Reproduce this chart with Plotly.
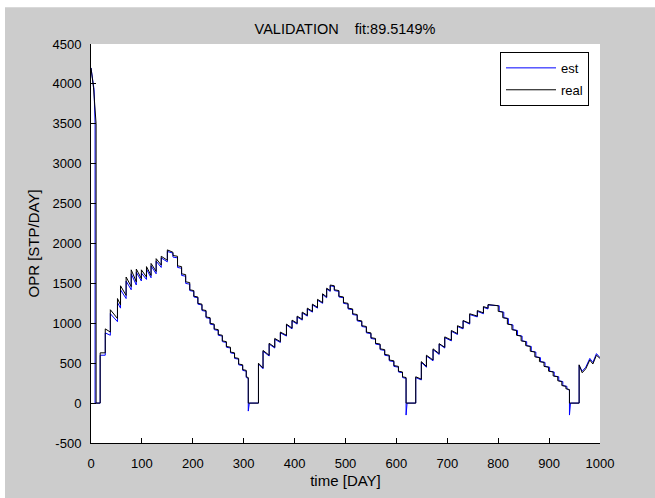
import plotly.graph_objects as go

# ---- data ----
real_t = [0, 5, 10, 10, 18, 18, 28, 28, 38, 38, 52, 52, 58, 58, 69, 69, 79, 79, 89, 89,
          99, 99, 109, 109, 118, 118, 128, 128, 138, 138, 150, 150, 161, 161, 170, 170,
          178, 178, 186, 186, 194, 194, 202, 202, 210, 210, 218, 218, 226, 226, 234, 234,
          242, 242, 250, 250, 258, 258, 266, 266, 274, 274, 282, 282, 290, 290, 298, 298,
          305, 305, 309, 309, 329, 329,
          338, 338, 350, 350, 361, 361, 372, 372, 384, 384, 395, 395, 405, 405, 415, 415,
          425, 425, 435, 435, 445, 445, 455, 455, 463, 463, 470, 470, 478, 478, 487, 487,
          496, 496, 505, 505, 514, 514, 523, 523, 532, 532, 541, 541, 550, 550, 559, 559,
          568, 568, 577, 577, 586, 586, 595, 595, 604, 604, 612, 612, 619, 619, 638, 638,
          649, 649, 659, 659, 672, 672, 684, 684, 695, 695, 708, 708, 720, 720, 731, 731,
          744, 744, 759, 759, 771, 771, 780, 780, 800, 800, 809, 809, 818, 818, 827, 827,
          836, 836, 845, 845, 854, 854, 863, 863, 872, 872, 881, 881, 890, 890, 899, 899,
          908, 908, 917, 917, 925, 925, 933, 933, 940, 940, 959, 959, 965, 972, 980, 986,
          993, 1000]
real_v = [4200, 3950, 3500, 0, 0, 630, 630, 930, 890, 1170, 1060, 1310, 1230, 1470, 1350, 1580, 1460, 1670, 1520, 1680,
          1560, 1670, 1580, 1710, 1600, 1750, 1650, 1810, 1730, 1840, 1790, 1920, 1890, 1850, 1840, 1720,
          1710, 1620, 1610, 1520, 1510, 1420, 1410, 1340, 1330, 1250, 1240, 1170, 1160, 1080, 1070, 1000,
          990, 930, 920, 860, 850, 780, 770, 710, 700, 640, 630, 570, 560, 490, 480, 420,
          410, 330, 320, 0, 0, 500,
          440, 660, 600, 750, 700, 810, 770, 890, 850, 990, 940, 1040, 1000, 1090, 1050, 1140,
          1100, 1190, 1150, 1240, 1200, 1300, 1260, 1370, 1330, 1440, 1410, 1480, 1470, 1420, 1410, 1340,
          1330, 1260, 1250, 1190, 1180, 1120, 1110, 1040, 1030, 970, 960, 890, 880, 820, 810, 750,
          740, 680, 670, 610, 600, 540, 530, 470, 460, 400, 390, 330, 320, 0, 0, 330,
          300, 520, 460, 600, 540, 680, 620, 745, 700, 830, 790, 910, 870, 970, 940, 1035,
          1000, 1120, 1090, 1160, 1130, 1210, 1190, 1235, 1220, 1150, 1140, 1070, 1060, 990, 980, 920,
          910, 850, 840, 780, 770, 720, 710, 650, 640, 580, 570, 520, 510, 460, 450, 400,
          390, 340, 330, 280, 270, 220, 210, 180, 170, 0, 0, 480, 380, 430, 540, 490,
          600, 560]

est_t = [0, 3, 6, 8, 8, 18, 18, 28, 28, 38, 38, 52, 52, 58, 58, 69, 69, 79, 79, 89, 89,
         99, 99, 109, 109, 118, 118, 128, 128, 138, 138, 150, 150, 161, 161, 170, 170,
         178, 178, 186, 186, 194, 194, 202, 202, 210, 210, 218, 218, 226, 226, 234, 234,
         242, 242, 250, 250, 258, 258, 266, 266, 274, 274, 282, 282, 290, 290, 298, 298,
         305, 305, 309, 309, 311, 329, 329,
         338, 338, 350, 350, 361, 361, 372, 372, 384, 384, 395, 395, 405, 405, 415, 415,
         425, 425, 435, 435, 445, 445, 455, 455, 463, 463, 470, 470, 478, 478, 487, 487,
         496, 496, 505, 505, 514, 514, 523, 523, 532, 532, 541, 541, 550, 550, 559, 559,
         568, 568, 577, 577, 586, 586, 595, 595, 604, 604, 612, 612, 619, 619, 621, 638, 638,
         649, 649, 659, 659, 672, 672, 684, 684, 695, 695, 708, 708, 720, 720, 731, 731,
         744, 744, 759, 759, 771, 771, 780, 780, 802, 802, 811, 811, 820, 820, 829, 829,
         838, 838, 847, 847, 856, 856, 865, 865, 874, 874, 883, 883, 892, 892, 901, 901,
         910, 910, 919, 919, 927, 927, 935, 935, 940, 940, 942, 959, 959, 965, 972, 980,
         986, 993, 1000]
est_v = [4200, 4050, 3930, 3500, 0, 0, 600, 600, 880, 850, 1120, 1020, 1260, 1190, 1420, 1310, 1530, 1420, 1620, 1480, 1640,
         1530, 1630, 1550, 1680, 1570, 1720, 1620, 1780, 1700, 1820, 1770, 1900, 1880, 1830, 1820, 1700,
         1690, 1600, 1590, 1500, 1490, 1410, 1400, 1330, 1320, 1240, 1230, 1160, 1150, 1070, 1060, 990,
         980, 920, 910, 850, 840, 770, 760, 700, 690, 630, 620, 560, 550, 480, 470, 410,
         400, 320, 310, -100, 0, 0, 490,
         430, 650, 590, 740, 690, 800, 760, 880, 840, 980, 930, 1030, 990, 1080, 1040, 1130,
         1090, 1180, 1140, 1230, 1190, 1290, 1250, 1360, 1320, 1430, 1400, 1470, 1460, 1410, 1400, 1330,
         1320, 1250, 1240, 1180, 1170, 1110, 1100, 1030, 1020, 960, 950, 880, 870, 810, 800, 740,
         730, 670, 660, 600, 590, 530, 520, 460, 450, 390, 380, 320, 310, -150, 0, 0, 320,
         290, 510, 450, 590, 530, 670, 610, 740, 690, 820, 780, 900, 860, 960, 930, 1030,
         990, 1110, 1080, 1150, 1120, 1200, 1180, 1230, 1220, 1150, 1140, 1070, 1060, 990, 980, 920,
         910, 850, 840, 780, 770, 720, 710, 650, 640, 580, 570, 520, 510, 460, 450, 400,
         390, 340, 330, 280, 270, 220, 210, 180, 160, -150, 0, 0, 470, 400, 450, 560,
         510, 620, 570]

x_ticks = [0, 100, 200, 300, 400, 500, 600, 700, 800, 900, 1000]
y_ticks = [-500, 0, 500, 1000, 1500, 2000, 2500, 3000, 3500, 4000, 4500]

FONT = "Liberation Sans, Arial, sans-serif"

fig = go.Figure()
fig.add_trace(go.Scatter(x=est_t, y=est_v, mode="lines", name="est",
                         line=dict(color="#0000ff", width=1), legendgroup="a"))
fig.add_trace(go.Scatter(x=real_t, y=real_v, mode="lines", name="real",
                         line=dict(color="#000000", width=1), legendgroup="b"))

W, H = 655, 498
ML, MR, MT, MB = 91, 55, 44, 51
PW = W - ML - MR
PH = H - MT - MB

# thin white strips along the top and left edges of the grey figure
fig.add_shape(type="rect", xref="paper", yref="paper", layer="below",
              x0=-(ML + 10) / PW, x1=(W + 10 - ML) / PW,
              y0=(H - MB - 7) / PH, y1=(H - MB + 10) / PH,
              fillcolor="#ffffff", line=dict(width=0))
fig.add_shape(type="rect", xref="paper", yref="paper", layer="below",
              x0=-(ML + 10) / PW, x1=(5 - ML) / PW,
              y0=-(MB + 10) / PH, y1=(H - MB + 10) / PH,
              fillcolor="#ffffff", line=dict(width=0))

fig.update_layout(
    width=W, height=H,
    margin=dict(l=ML, r=MR, t=MT, b=MB, pad=0),
    paper_bgcolor="#cccccc",
    plot_bgcolor="#ffffff",
    font=dict(family=FONT, size=13, color="#000000"),
    title=dict(text="VALIDATION\u00a0\u00a0\u00a0\u00a0fit:89.5149%", x=(345 - ML) / PW, xref="paper",
               xanchor="center", y=1 - 29 / H, yanchor="middle", font=dict(size=14.5)),
    showlegend=True,
    legend=dict(x=(500 - ML) / PW, y=(H - MB - 52) / PH, xanchor="left", yanchor="top",
                bgcolor="#ffffff", bordercolor="#000000", borderwidth=1,
                font=dict(size=13), tracegroupgap=2, traceorder="grouped", itemwidth=50),
)
fig.update_xaxes(range=[0, 1000], tickvals=x_ticks, ticktext=[str(v) for v in x_ticks],
                 showgrid=False, zeroline=False, showline=True, linecolor="#000000", linewidth=1,
                 ticks="inside", ticklen=5, tickcolor="#000000", mirror=False,
                 title=dict(text="time [DAY]", standoff=5, font=dict(size=15)), ticklabelstandoff=8)
fig.update_yaxes(range=[-500, 4500], tickvals=y_ticks, ticktext=[str(v) for v in y_ticks],
                 showgrid=False, zeroline=False, showline=True, linecolor="#000000", linewidth=1,
                 ticks="inside", ticklen=5, tickcolor="#000000", mirror=False,
                 title=dict(text="OPR [STP/DAY]", standoff=9, font=dict(size=15)), ticklabelstandoff=6)

fig.write_html("out.html")
